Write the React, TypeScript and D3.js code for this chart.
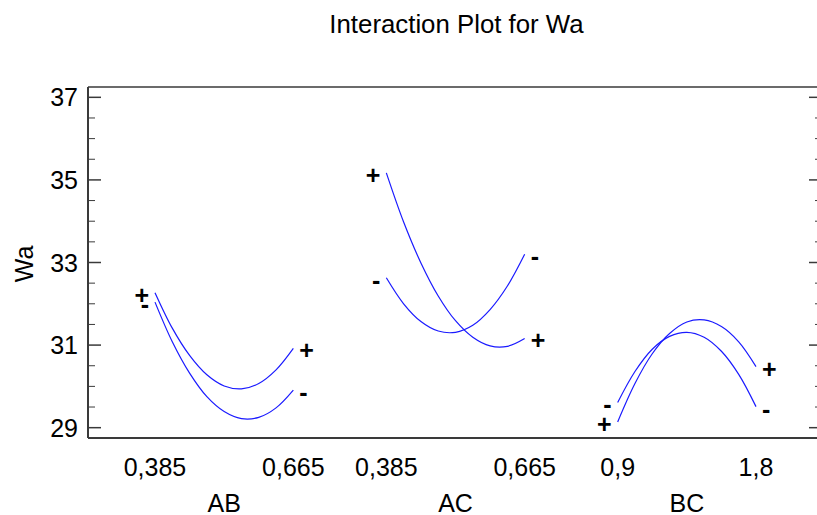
import React from "react";
import * as d3 from "d3";

// ---- data ----
const title = "Interaction Plot for Wa";
const yLabel = "Wa";
const panels = ["AB", "AC", "BC"];
const lowLabels = ["0,385", "0,385", "0,9"];
const highLabels = ["0,665", "0,665", "1,8"];
const yTicks = [29, 31, 33, 35, 37];
const yMinorTicks = [29.5, 30, 30.5, 31.5, 32, 32.5, 33.5, 34, 34.5, 35.5, 36, 36.5];

// factor levels (first factor of each pair) along the x axis
const abX = [0.385, 0.42, 0.455, 0.49, 0.525, 0.56, 0.595, 0.63, 0.665];
const acX = [0.385, 0.42, 0.455, 0.49, 0.525, 0.56, 0.595, 0.63, 0.665];
const bcX = [0.9, 1.0125, 1.125, 1.2375, 1.35, 1.4625, 1.575, 1.6875, 1.8];

// Wa values, second factor at "+" and "-"
const abPlus = [32.27, 31.41, 30.75, 30.28, 30.01, 29.94, 30.07, 30.4, 30.92];
const abMinus = [32.04, 31.08, 30.32, 29.75, 29.39, 29.22, 29.25, 29.48, 29.91];
const acPlus = [35.17, 33.98, 32.99, 32.19, 31.59, 31.19, 30.98, 30.97, 31.16];
const acMinus = [32.63, 32.0, 31.57, 31.34, 31.31, 31.48, 31.86, 32.43, 33.2];
const bcPlus = [29.14, 30.07, 30.79, 31.28, 31.56, 31.61, 31.45, 31.08, 30.48];
const bcMinus = [29.61, 30.36, 30.9, 31.21, 31.31, 31.19, 30.85, 30.29, 29.51];

const xs = [abX, acX, bcX];
const plusSeries = [abPlus, acPlus, bcPlus];
const minusSeries = [abMinus, acMinus, bcMinus];

// ---- layout ----
const W = 817;
const H = 515;
const left = 88;
const right = 822;
const top = 87;
const bottom = 438;
const font = "'Liberation Sans', Arial, Helvetica, sans-serif";
const fs = 25;
const axisColor = "#3a3a3a";
const curveColor = "#1a1aff";

export default function App() {
  const y = d3.scaleLinear().domain([28.75, 37.25]).range([bottom, top]);
  const band = d3.scaleBand<string>().domain(panels).range([108.5, 802.5]);
  const bw = band.bandwidth();

  const curves: React.ReactNode[] = [];
  const labels: React.ReactNode[] = [];
  const xLabels: React.ReactNode[] = [];

  panels.forEach((p, i) => {
    const c = (band(p) as number) + bw / 2;
    const xv = xs[i];
    const x = d3
      .scaleLinear()
      .domain([xv[0], xv[xv.length - 1]])
      .range([c - bw * 0.299, c + bw * 0.299]);
    const line = d3
      .line<number>()
      .x((_, k) => x(xv[k]))
      .y((d) => y(d))
      .curve(d3.curveCatmullRom.alpha(0.5));
    const series = [
      { v: plusSeries[i], s: "+" },
      { v: minusSeries[i], s: "-" },
    ];
    series.forEach((se, j) => {
      curves.push(
        <path
          key={`c${i}${j}`}
          d={line(se.v) || ""}
          fill="none"
          stroke={curveColor}
          strokeWidth={1.2}
        />
      );
      const x0 = x(xv[0]);
      const x1 = x(xv[xv.length - 1]);
      labels.push(
        <text
          key={`l${i}${j}a`}
          x={x0 - 6}
          y={y(se.v[0]) + 2}
          textAnchor="end"
          dominantBaseline="central"
          fontSize={fs}
          fontWeight="bold"
          fontFamily={font}
          fill="#000"
        >
          {se.s}
        </text>
      );
      labels.push(
        <text
          key={`l${i}${j}b`}
          x={x1 + 6}
          y={y(se.v[se.v.length - 1]) + 2}
          textAnchor="start"
          dominantBaseline="central"
          fontSize={fs}
          fontWeight="bold"
          fontFamily={font}
          fill="#000"
        >
          {se.s}
        </text>
      );
    });
    xLabels.push(
      <text key={`xl${i}`} x={x(xv[0])} y={476} textAnchor="middle" fontSize={fs} fontFamily={font} fill="#000">
        {lowLabels[i]}
      </text>,
      <text key={`xh${i}`} x={x(xv[xv.length - 1])} y={476} textAnchor="middle" fontSize={fs} fontFamily={font} fill="#000">
        {highLabels[i]}
      </text>,
      <text key={`xn${i}`} x={c} y={511.5} textAnchor="middle" fontSize={fs} fontFamily={font} fill="#000">
        {p}
      </text>
    );
  });

  return (
    <svg
      width={W}
      height={H}
      style={{ position: "absolute", left: 0, top: 0, background: "#fff" }}
    >
      <rect x={0} y={0} width={W} height={H} fill="#fff" />
      <text x={456.5} y={33.3} textAnchor="middle" fontSize={25.8} fontFamily={font} fill="#000">
        {title}
      </text>
      <text
        transform={`translate(33,264) rotate(-90)`}
        textAnchor="middle"
        fontSize={fs}
        fontFamily={font}
        fill="#000"
      >
        {yLabel}
      </text>
      {/* frame */}
      <line x1={left} x2={left} y1={top} y2={bottom} stroke={axisColor} strokeWidth={2} />
      <line x1={left} x2={right} y1={top} y2={top} stroke={axisColor} strokeWidth={1.5} />
      <line x1={left} x2={right} y1={bottom} y2={bottom} stroke={axisColor} strokeWidth={2} />
      <line x1={right} x2={right} y1={top} y2={bottom} stroke={axisColor} strokeWidth={2} />
      {/* y ticks */}
      {yTicks.map((t) => (
        <g key={`t${t}`}>
          <line x1={left} x2={left + 13} y1={y(t)} y2={y(t)} stroke={axisColor} strokeWidth={1.5} />
          <line x1={right - 13} x2={right} y1={y(t)} y2={y(t)} stroke={axisColor} strokeWidth={1.5} />
          <text x={78} y={y(t) + 9} textAnchor="end" fontSize={fs} fontFamily={font} fill="#000">
            {t}
          </text>
        </g>
      ))}
      {yMinorTicks.map((t) => (
        <g key={`m${t}`}>
          <line x1={left} x2={left + 7} y1={y(t)} y2={y(t)} stroke={axisColor} strokeWidth={1} />
          <line x1={right - 7} x2={right} y1={y(t)} y2={y(t)} stroke={axisColor} strokeWidth={1} />
        </g>
      ))}
      {curves}
      {labels}
      {xLabels}
    </svg>
  );
}
